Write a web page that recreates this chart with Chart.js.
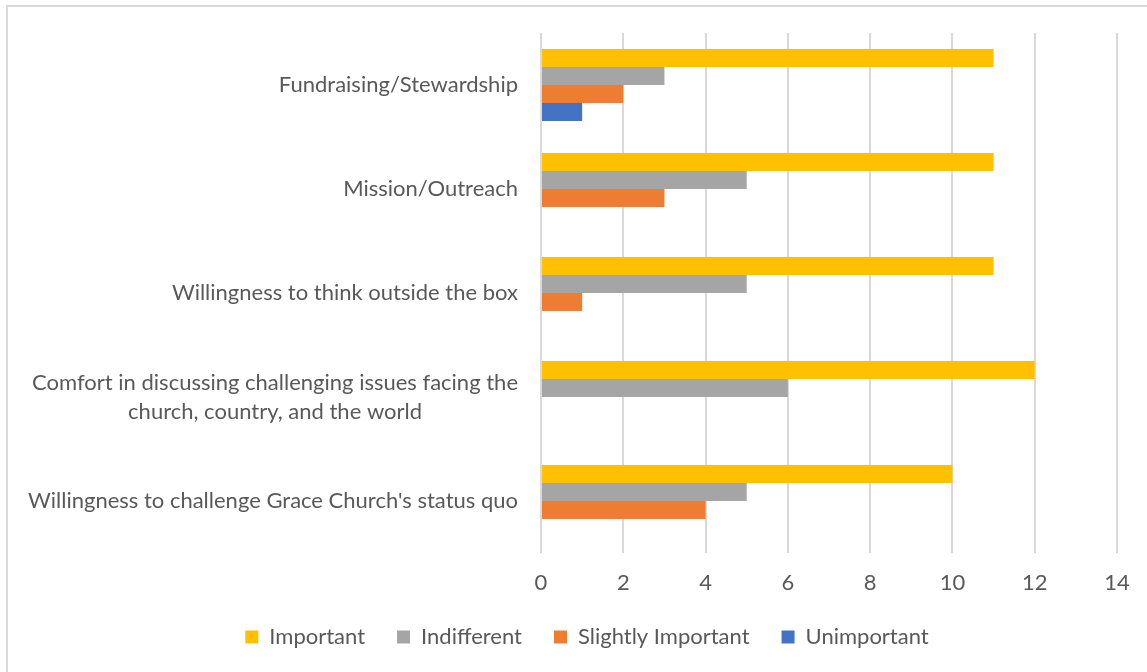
<!DOCTYPE html>
<html>
<head>
<meta charset="utf-8">
<script src="https://cdn.jsdelivr.net/npm/chart.js@4.4.1/dist/chart.umd.min.js"></script>
<style>
  html, body { margin: 0; padding: 0; background: #ffffff; overflow: hidden; }
  #wrap { position: relative; width: 1147px; height: 672px; }
  #frame { position: absolute; left: 6px; top: 5px; width: 1160px; height: 700px;
           border: 2px solid #d9d9d9; box-sizing: border-box; pointer-events: none; }
  canvas { position: absolute; left: 0; top: 0; }
</style>
</head>
<body>
<div id="wrap">
  <canvas id="c" width="1147" height="672"></canvas>
  <div id="frame"></div>
</div>
<script>
// ---- data ----
const categories = [
  "Fundraising/Stewardship",
  "Mission/Outreach",
  "Willingness to think outside the box",
  ["Comfort in discussing challenging issues facing the", "church, country, and the world"],
  "Willingness to challenge Grace Church's status quo"
];
const seriesNames = ["Important", "Indifferent", "Slightly Important", "Unimportant"];
const important   = [11, 11, 11, 12, 10];
const indifferent = [3, 5, 5, 6, 5];
const slightly    = [2, 3, 1, 0, 4];
const unimportant = [1, 0, 0, 0, 0];
const xTicks = [0, 2, 4, 6, 8, 10, 12, 14];

const colors = ["#FFC000", "#A5A5A5", "#ED7D31", "#4472C4"];
const FONT = "Lato, 'Open Sans', sans-serif";
const TEXT = "#595959";

const values = [important, indifferent, slightly, unimportant];
const datasets = seriesNames.map((n, i) => ({
  label: n,
  data: values[i],
  backgroundColor: colors[i],
  borderWidth: 0,
  categoryPercentage: 0.69,
  barPercentage: 1.0
}));

const yLabelPlugin = {
  id: 'yLabels',
  afterDraw(chart) {
    const ctx = chart.ctx;
    const y = chart.scales.y;
    const right = chart.chartArea.left - 23;
    const lh = 29;
    ctx.save();
    ctx.font = "22px " + FONT;
    ctx.fillStyle = TEXT;
    ctx.textBaseline = 'middle';
    categories.forEach((lab, i) => {
      const cy = y.getPixelForValue(i);
      const lines = Array.isArray(lab) ? lab : [lab];
      const maxW = Math.max(...lines.map(l => ctx.measureText(l).width));
      const n = lines.length;
      lines.forEach((l, k) => {
        const ly = cy + (k - (n - 1) / 2) * lh;
        if (n === 1) { ctx.textAlign = 'right'; ctx.fillText(l, right, ly); }
        else { ctx.textAlign = 'center'; ctx.fillText(l, right - maxW / 2, ly); }
      });
    });
    ctx.restore();
  }
};

const legendHeightPlugin = {
  id: 'legendHeight',
  beforeInit(chart) {
    const origFit = chart.legend.fit;
    chart.legend.fit = function () {
      origFit.bind(chart.legend)();
      this.height = 78;
    };
  }
};

new Chart(document.getElementById('c'), {
  type: 'bar',
  data: { labels: categories, datasets },
  options: {
    indexAxis: 'y',
    responsive: false,
    devicePixelRatio: 1,
    animation: false,
    layout: { padding: { left: 57, right: 30, top: 33, bottom: 0 } },
    scales: {
      x: {
        min: 0, max: 14,
        afterBuildTicks(scale) { scale.ticks = xTicks.map(v => ({ value: v })); },
        afterFit(scale) { scale.height = 41; },
        grid: { color: '#d9d9d9', lineWidth: 2, drawTicks: false },
        border: { display: false },
        ticks: { color: TEXT, font: { family: FONT, size: 22 }, padding: 17 }
      },
      y: {
        afterFit(scale) { scale.width = 484; },
        grid: { display: false, drawTicks: false },
        border: { display: false },
        ticks: { display: false }
      }
    },
    plugins: {
      legend: {
        position: 'bottom',
        labels: {
          boxWidth: 13, boxHeight: 13, padding: 32,
          color: TEXT, font: { family: FONT, size: 22 }
        }
      },
      tooltip: { enabled: false }
    }
  },
  plugins: [yLabelPlugin, legendHeightPlugin]
});
</script>
</body>
</html>
